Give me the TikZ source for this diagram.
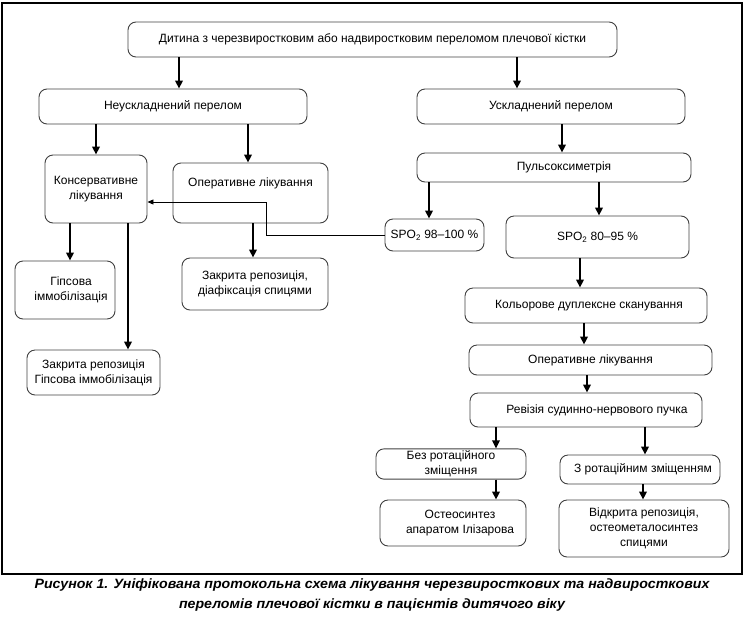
\documentclass[tikz,border=0pt]{standalone}
\usepackage{fontspec}
\setmainfont{Liberation Sans}
\newfontfamily\capfont[FakeStretch=1.05]{Liberation Sans}
\usetikzlibrary{arrows.meta}
\definecolor{boxline}{gray}{0.25}
\tikzset{
  box/.style={draw=boxline, line width=0.9pt, rounded corners=8pt, align=center,
    inner sep=2pt, font=\fontsize{12}{15}\selectfont},
  arr/.style={line width=1.8pt, -{Triangle[length=8pt,width=7.5pt]}},
  fb/.style={line width=0.9pt, -{Triangle[length=6pt,width=5pt]}},
}
\begin{document}
\begin{tikzpicture}[x=1pt,y=-1pt]
\useasboundingbox (0,0) rectangle (744,619);
\draw[line width=1.2pt] (2,3) rectangle (742,574);

\node[box, minimum width=489pt, minimum height=35pt] (top) at (372.5,39.5) {Дитина з черезвиростковим або надвиростковим переломом плечової кістки};
\node[box, minimum width=268pt, minimum height=35pt] (neu) at (173,106.5) {Неускладнений перелом};
\node[box, minimum width=268pt, minimum height=35pt] (usk) at (551,106.5) {Ускладнений перелом};
\node[box, minimum width=274pt, minimum height=29pt] (puls) at (554,167.5) {\hspace*{20pt}Пульсоксиметрія};
\node[box, minimum width=102pt, minimum height=68pt] (kons) at (96,189) {Консервативне\\лікування};
\node[box, minimum width=155pt, minimum height=60pt] (operL) at (250.5,193) {Оперативне лікування\\[6pt]\mbox{}};
\node[box, minimum width=99pt, minimum height=32pt] (spo98) at (434.5,235) {SPO\textsubscript{2} 98–100 \%};
\node[box, minimum width=183pt, minimum height=42pt] (spo80) at (597.5,237) {SPO\textsubscript{2} 80–95 \%};
\node[box, minimum width=242pt, minimum height=35pt] (kolor) at (586,305.5) {\hspace*{6pt}Кольорове дуплексне сканування};
\node[box, minimum width=243pt, minimum height=30pt] (operR) at (590.5,360) {Оперативне лікування};
\node[box, minimum width=232pt, minimum height=34pt] (reviz) at (586,410) {\hspace*{22pt}Ревізія судинно-нервового пучка};
\node[box, minimum width=150pt, minimum height=28pt] (bez) at (451,464) {Без ротаційного\\зміщення};
\node[box, minimum width=160pt, minimum height=29pt] (zrot) at (640,469.5) {\hspace*{6pt}З ротаційним зміщенням};
\node[box, minimum width=146pt, minimum height=46pt] (osteo) at (453,523) {\hspace*{14pt}Остеосинтез\\\hspace*{14pt}апаратом Ілізарова};
\node[box, minimum width=170pt, minimum height=57pt] (vidkr) at (644,528.5) {Відкрита репозиція,\\остеометалосинтез\\спицями};
\node[box, minimum width=100pt, minimum height=58pt] (gips) at (65,290) {\hspace*{12pt}Гіпсова\\\hspace*{12pt}іммобілізація};
\node[box, minimum width=146pt, minimum height=52pt] (zakrD) at (255,284) {Закрита репозиція,\\діафіксація спицями};
\node[box, minimum width=133pt, minimum height=45pt] (zakrG) at (93.5,372.5) {Закрита репозиція\\Гіпсова іммобілізація};

\draw[arr] (top.south -| 179,0) -- (neu.north -| 179,0);
\draw[arr] (top.south -| 517,0) -- (usk.north -| 517,0);
\draw[arr] (neu.south -| 96,0) -- (kons.north -| 96,0);
\draw[arr] (neu.south -| 248,0) -- (operL.north -| 248,0);
\draw[arr] (usk.south -| 562,0) -- (puls.north -| 562,0);
\draw[arr] (puls.south -| 429,0) -- (spo98.north -| 429,0);
\draw[arr] (puls.south -| 599,0) -- (spo80.north -| 599,0);
\draw[arr] (kons.south -| 70,0) -- (gips.north -| 70,0);
\draw[arr] (kons.south -| 128,0) -- (zakrG.north -| 128,0);
\draw[arr] (operL.south -| 253,0) -- (zakrD.north -| 253,0);
\draw[arr] (spo80.south -| 580,0) -- (kolor.north -| 580,0);
\draw[arr] (kolor.south -| 584,0) -- (operR.north -| 584,0);
\draw[arr] (operR.south -| 587,0) -- (reviz.north -| 587,0);
\draw[arr] (reviz.south -| 496,0) -- (bez.north -| 496,0);
\draw[arr] (reviz.south -| 645,0) -- (zrot.north -| 645,0);
\draw[arr] (bez.south -| 496,0) -- (osteo.north -| 496,0);
\draw[arr] (zrot.south -| 643,0) -- (vidkr.north -| 643,0);

\coordinate (bend) at (266,202);
\draw[fb] (spo98.west) -| (bend) -- (kons.east |- bend);

\node[align=center, font=\capfont\bfseries\itshape\fontsize{13.5}{20}\selectfont] (cap) at (372,594.5)
  {Рисунок 1. Уніфікована протокольна схема лікування черезвиросткових та надвиросткових\\переломів плечової кістки в пацієнтів дитячого віку};
\end{tikzpicture}
\end{document}
